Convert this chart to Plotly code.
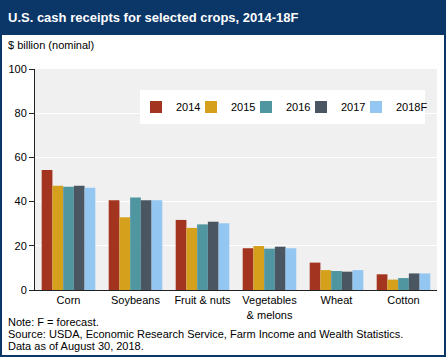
import plotly.graph_objects as go

categories = ["Corn", "Soybeans", "Fruit & nuts", "Vegetables<br>& melons", "Wheat", "Cotton"]
years = ["2014", "2015", "2016", "2017", "2018F"]
v2014 = [54.3, 40.6, 31.7, 18.9, 12.4, 7.1]
v2015 = [47.2, 32.9, 28.1, 19.9, 9.0, 4.7]
v2016 = [46.7, 41.9, 29.7, 18.7, 8.6, 5.4]
v2017 = [47.2, 40.6, 30.9, 19.6, 8.3, 7.5]
v2018 = [46.3, 40.6, 30.2, 18.9, 9.0, 7.5]
series = [v2014, v2015, v2016, v2017, v2018]
colors = ["#A33520", "#D5A11C", "#4F96A0", "#4A5763", "#94C6F2"]

W, H = 446, 357
L, R, T, B = 35, 9, 69, 67
pw, ph = W - L - R, H - T - B

def px_x(px):
    return (px - L) / pw

def px_y(py):
    return (H - B - py) / ph

fig = go.Figure()
for i, (name, vals, col) in enumerate(zip(years, series, colors)):
    fig.add_trace(go.Bar(x=categories, y=vals, name=name, marker_color=col,
                         marker_line_width=0,
                         legendwidth=(28 if i == len(years) - 1 else 10)))

font = "Liberation Sans, Arial, sans-serif"
navy = "#0B3668"
fig.update_layout(
    width=W, height=H,
    margin=dict(l=L, r=R, t=T, b=B, pad=0),
    paper_bgcolor="white", plot_bgcolor="#F0F0F0",
    font=dict(family=font, size=11, color="black"),
    barmode="group", bargap=0.2, bargroupgap=0,
    showlegend=True,
    legend=dict(orientation="h", x=px_x(136), y=px_y(107), xanchor="left", yanchor="middle",
                bgcolor="rgba(0,0,0,0)", font=dict(size=11), itemwidth=30,
                entrywidthmode="pixels", traceorder="normal"),
    xaxis=dict(showline=True, linecolor="#222", linewidth=1, ticks="", showgrid=False,
               tickfont=dict(size=11), fixedrange=True),
    yaxis=dict(range=[0, 100], dtick=20, showline=True, linecolor="#222", linewidth=1,
               ticks="outside", ticklen=5, tickcolor="#222", gridcolor="white",
               gridwidth=1, zeroline=False, tickfont=dict(size=11)),
)

shapes = [
    dict(type="rect", xref="paper", yref="paper", x0=px_x(0), x1=px_x(W), y0=px_y(35), y1=px_y(0),
         fillcolor=navy, line_width=0, layer="above"),
    dict(type="rect", xref="paper", yref="paper", x0=px_x(1), x1=px_x(W - 1), y0=px_y(H - 1), y1=px_y(1),
         fillcolor="rgba(0,0,0,0)", line=dict(color=navy, width=2), layer="above"),
    dict(type="rect", xref="paper", yref="paper", x0=px_x(140), x1=px_x(425), y0=px_y(124), y1=px_y(90),
         fillcolor="white", line_width=0, layer="above"),
]
fig.update_layout(shapes=shapes)

ann = [
    dict(text="<b>U.S. cash receipts for selected crops, 2014-18F</b>", x=px_x(6), y=px_y(18),
         font=dict(size=13, color="white")),
    dict(text="$ billion (nominal)", x=px_x(6), y=px_y(45), font=dict(size=11)),
    dict(text="Note: F = forecast.", x=px_x(6), y=px_y(322), font=dict(size=11)),
    dict(text="Source: USDA, Economic Research Service, Farm Income and Wealth Statistics.",
         x=px_x(6), y=px_y(334), font=dict(size=11)),
    dict(text="Data as of August 30, 2018.", x=px_x(6), y=px_y(346), font=dict(size=11)),
]
for a in ann:
    fig.add_annotation(xref="paper", yref="paper", xanchor="left", yanchor="middle",
                       showarrow=False, **a)

fig.write_html("out.html", config={"displayModeBar": False},
               post_script="document.body.style.margin='0px';")
